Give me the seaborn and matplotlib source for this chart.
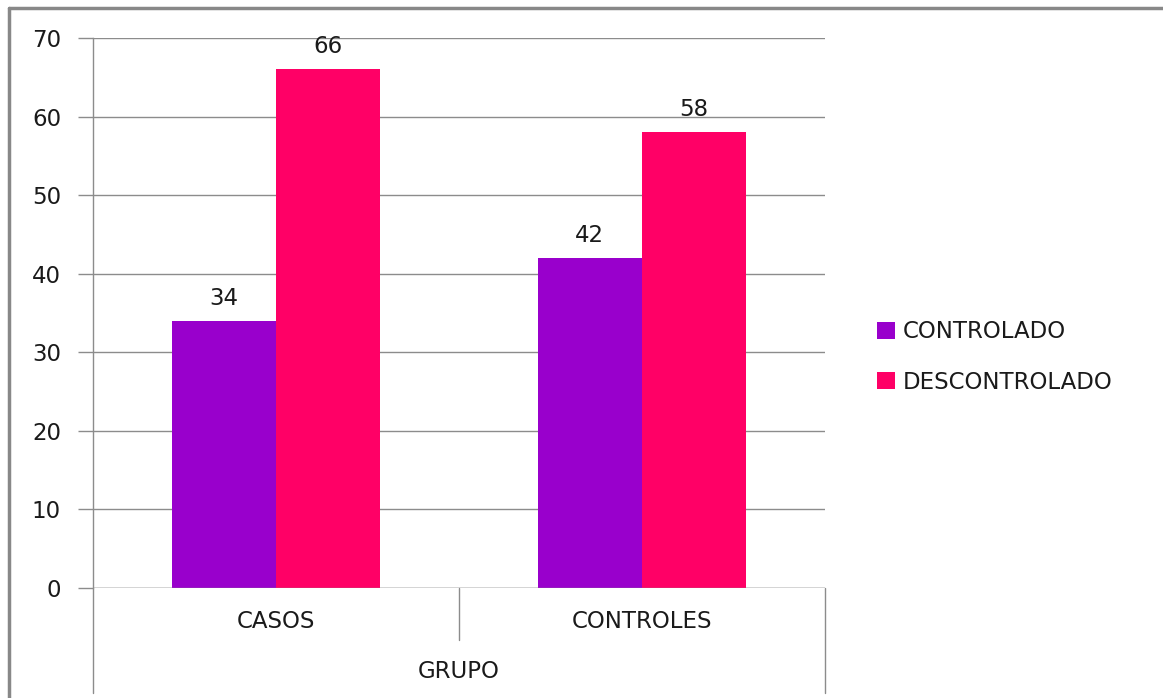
import matplotlib
matplotlib.use("Agg")
import matplotlib.pyplot as plt
import seaborn as sns
import pandas as pd
from matplotlib.lines import Line2D
from matplotlib.patches import Patch

groups = ["CASOS", "CONTROLES"]
series = ["CONTROLADO", "DESCONTROLADO"]
controlado = [34, 42]
descontrolado = [66, 58]
yticks = [0, 10, 20, 30, 40, 50, 60, 70]
axis_title = "GRUPO"
colors = ["#9900CC", "#FF0066"]

df = pd.DataFrame({
    "grupo": groups * 2,
    "serie": [series[0]] * len(groups) + [series[1]] * len(groups),
    "valor": controlado + descontrolado,
})

sns.set_theme(style="white")
plt.rcParams["font.family"] = ["DejaVu Sans"]

FS = 16.5
TXT = "#1a1a1a"
W, H = 1163, 698
fig = plt.figure(figsize=(W / 100, H / 100), dpi=100)
ax = fig.add_axes([93 / W, 1 - 588 / H, (825 - 93) / W, (588 - 38) / H])

sns.barplot(data=df, x="grupo", y="valor", hue="serie", order=groups,
            hue_order=series, palette=colors, width=0.57, saturation=1,
            edgecolor="none", linewidth=0, ax=ax, legend=False)

ax.set_xlim(-0.5, 1.5)
ax.set_ylim(0, 70)
ax.set_yticks(yticks)
ax.set_yticklabels([str(t) for t in yticks], fontsize=FS, color=TXT)
ax.yaxis.grid(True, color="#8c8c8c", linewidth=1)
ax.set_axisbelow(True)
for s in ["top", "right", "bottom"]:
    ax.spines[s].set_visible(False)
ax.spines["left"].set_color("#8c8c8c")
ax.spines["left"].set_linewidth(1)
ax.tick_params(axis="y", length=11, width=1, color="#8c8c8c", pad=12, left=True)
ax.tick_params(axis="x", length=0, labelbottom=False)
ax.set_xlabel("")
ax.set_ylabel("")

# value labels above each bar
for cont in ax.containers:
    ax.bar_label(cont, fmt="%d", padding=8, fontsize=FS, color=TXT)

# category labels and multi-level axis dividers
gray = "#8c8c8c"
trans = ax.get_xaxis_transform()
for i, g in enumerate(groups):
    ax.text(i, -(622 - 588) / 550, g, transform=trans, ha="center", va="center",
            fontsize=FS, color=TXT, clip_on=False)
ax.text(0.5, -(672 - 588) / 550, axis_title, transform=trans, ha="center", va="center",
        fontsize=FS, color=TXT, clip_on=False)
low = -(693 - 588) / 550
mid = -(640 - 588) / 550
ax.add_line(Line2D([-0.5, -0.5], [0, low], transform=trans, color=gray, lw=1, clip_on=False))
ax.add_line(Line2D([1.5, 1.5], [0, low], transform=trans, color=gray, lw=1, clip_on=False))
ax.add_line(Line2D([0.5, 0.5], [0, mid], transform=trans, color=gray, lw=1, clip_on=False))
ax.axhline(0, color=gray, lw=1)

handles = [Patch(facecolor=c, edgecolor="none") for c in colors]
fig.legend(handles, series, loc="center left", bbox_to_anchor=(877 / W, 1 - 357 / H),
           frameon=False, fontsize=FS, handlelength=0.78, handleheight=0.75,
           handletextpad=0.35, labelspacing=1.2, borderaxespad=0, borderpad=0,
           labelcolor=TXT)

# outer chart frame
fig.add_artist(Line2D([9 / W, 1.0], [1 - 8 / H, 1 - 8 / H], transform=fig.transFigure,
                      color="#888888", lw=2.5))
fig.add_artist(Line2D([9 / W, 9 / W], [0.0, 1 - 8 / H], transform=fig.transFigure,
                      color="#888888", lw=2.5))

fig.savefig("out.png", dpi=100)
